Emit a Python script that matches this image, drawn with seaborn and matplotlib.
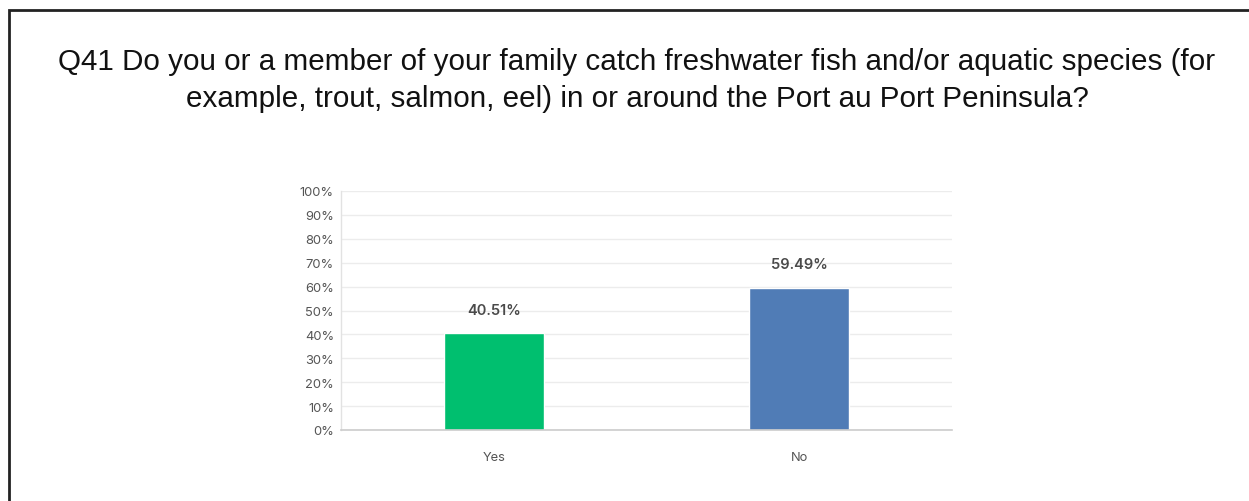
import matplotlib
matplotlib.use("Agg")
import matplotlib.pyplot as plt
import matplotlib.patches as mpatches
import seaborn as sns
import pandas as pd

categories = ["Yes", "No"]
percentages = [40.51, 59.49]
bar_colors = ["#00BF6F", "#507CB6"]
y_ticks = [0, 10, 20, 30, 40, 50, 60, 70, 80, 90, 100]
title = ("Q41 Do you or a member of your family catch freshwater fish and/or aquatic species (for\n"
         "example, trout, salmon, eel) in or around the Port au Port Peninsula?")

sns.set_theme(style="white")
plt.rcParams["font.family"] = ["Inter", "DejaVu Sans"]

df = pd.DataFrame({"answer": categories, "pct": percentages})

W, H = 1249, 502
fig = plt.figure(figsize=(W / 100, H / 100), dpi=100)

# outer frame of the panel
fig.add_artist(mpatches.Rectangle((9 / W, -0.1), 1.2, (H - 11) / H + 0.1,
                                  transform=fig.transFigure, fill=False,
                                  edgecolor="#222222", linewidth=2))

fig.text(637 / W, 1 - 80.5 / H, title, ha="center", va="center",
         fontsize=21.3, color="#111111", family=["Liberation Sans", "DejaVu Sans"],
         linespacing=1.42)

ax = fig.add_axes([341 / W, 1 - 431 / H, (952 - 341) / W, (431 - 192) / H])
sns.barplot(data=df, x="answer", y="pct", hue="answer", palette=bar_colors,
            width=0.327, legend=False, ax=ax, saturation=1)

ax.set_ylim(0, 100)
ax.set_xlim(-0.5, 1.5)
ax.set_yticks(y_ticks)
ax.set_yticklabels([f"{t}%" for t in y_ticks])
ax.set_xlabel("")
ax.set_ylabel("")
ax.grid(axis="y", color="#ececec", linewidth=1)
ax.set_axisbelow(True)
for side in ["top", "right"]:
    ax.spines[side].set_visible(False)
ax.spines["left"].set_color("#e2e2e2")
ax.spines["bottom"].set_color("#cccccc")
ax.spines["left"].set_linewidth(1)
ax.spines["bottom"].set_linewidth(1.2)
ax.tick_params(axis="y", labelsize=9.3, colors="#555555", length=0, pad=5)
ax.tick_params(axis="x", labelsize=9.3, colors="#555555", length=0, pad=15)

for i, v in enumerate(percentages):
    ax.annotate(f"{v:.2f}%", xy=(i, v), xytext=(0, 17), textcoords="offset points",
                ha="center", va="center", fontsize=10.5, fontweight="semibold",
                color="#4a4a4a")

fig.savefig("out.png", dpi=100)
